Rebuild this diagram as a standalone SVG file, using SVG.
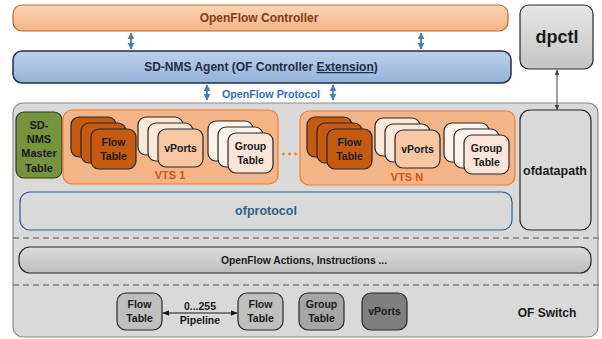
<svg xmlns="http://www.w3.org/2000/svg" width="602" height="339" viewBox="0 0 602 339">
<defs>
  <linearGradient id="gOrange" x1="0" y1="0" x2="0" y2="1"><stop offset="0" stop-color="#fbd5b8"/><stop offset="1" stop-color="#f4b486"/></linearGradient>
  <linearGradient id="gBlue" x1="0" y1="0" x2="0" y2="1"><stop offset="0" stop-color="#bcd0e8"/><stop offset="1" stop-color="#94b3d8"/></linearGradient>
  <linearGradient id="gGray" x1="0" y1="0" x2="0" y2="1"><stop offset="0" stop-color="#e6e6e6"/><stop offset="1" stop-color="#c4c4c4"/></linearGradient>
  <linearGradient id="gBar" x1="0" y1="0" x2="0" y2="1"><stop offset="0" stop-color="#dcdcdc"/><stop offset="1" stop-color="#bdbdbd"/></linearGradient>
  <marker id="aBlue" viewBox="0 0 10 10" refX="9" refY="5" markerWidth="4" markerHeight="4" orient="auto-start-reverse"><path d="M0,0 L10,5 L0,10 z" fill="#4a7ebb"/></marker>
  <marker id="aDark" viewBox="0 0 10 10" refX="9" refY="5" markerWidth="6" markerHeight="6" orient="auto-start-reverse"><path d="M0,1 L10,5 L0,9 z" fill="#404040"/></marker>
  <marker id="aBlack" viewBox="0 0 10 10" refX="9" refY="5" markerWidth="7" markerHeight="7" orient="auto-start-reverse"><path d="M0,1 L10,5 L0,9 z" fill="#1a1a1a"/></marker>
</defs>
<style>
  text { font-family: "Liberation Sans", Arial, sans-serif; font-weight: bold; text-anchor: middle; }
  .card { stroke: #262626; stroke-width: 1.2; }
  .flow { fill: #c55a11; }
  .vp { fill: #f7c6a2; }
  .vpb { fill: #fde9da; }
  .gt { fill: #fbe5d6; }
  .gtb { fill: #fff3ea; }
  .ct { font-size: 10.5px; fill: #1a1a1a; }
  .bt { font-size: 10.5px; fill: #1a1a1a; }
  .vts { fill: #f4b487; stroke: #ed7d31; stroke-width: 1.2; }
  .vtsl { font-size: 11px; fill: #c55a11; }
  .dash { stroke: #7f7f7f; stroke-width: 1.5; stroke-dasharray: 6 4; fill: none; }
  .blue { stroke: #4a7ebb; stroke-width: 1.8; fill: none; }
  .dot { fill: #ed7d31; }
</style>

<g id="controller">
  <rect x="13" y="5" width="495" height="26" rx="9" fill="url(#gOrange)" stroke="#b8682e" stroke-width="1.2"/>
  <text x="259" y="22" font-size="12" fill="#843c0c">OpenFlow Controller</text>
</g>

<g id="agent">
  <rect x="13" y="51" width="498" height="32" rx="9" fill="url(#gBlue)" stroke="#1f2f4f" stroke-width="1.5"/>
  <text x="261" y="71" font-size="12" fill="#1f2d45">SD-NMS Agent (OF Controller <tspan style="text-decoration:underline">Extension</tspan>)</text>
</g>

<g id="dpctl">
  <rect x="520" y="5" width="73" height="64" rx="9" fill="url(#gGray)" stroke="#262626" stroke-width="1.2"/>
  <text x="557" y="43" font-size="18" fill="#1a1a1a">dpctl</text>
</g>

<g id="of-switch">
  <rect x="13" y="103" width="585" height="234" rx="10" fill="#d9d9d9" stroke="#8c8c8c" stroke-width="1.2"/>
  <line class="dash" x1="13" y1="238" x2="600" y2="238"/>
  <line class="dash" x1="13" y1="285" x2="600" y2="285"/>
  <text x="547" y="317" font-size="12" fill="#1a1a1a">OF Switch</text>
</g>

<g id="master-table">
  <rect x="16" y="112" width="46" height="66" rx="8" fill="#77933c" stroke="#2f3a1a" stroke-width="1.2"/>
  <text x="39" y="129" font-size="11" fill="#1a1a1a">SD-</text>
  <text x="39" y="143" font-size="11" fill="#1a1a1a">NMS</text>
  <text x="39" y="157" font-size="11" fill="#1a1a1a">Master</text>
  <text x="39" y="172" font-size="11" fill="#1a1a1a">Table</text>
</g>

<g id="vts1">
  <rect class="vts" x="63" y="110" width="215" height="74" rx="9"/>
  <rect class="card flow" x="71" y="117" width="45" height="40" rx="8"/>
  <rect class="card flow" x="81" y="123" width="45" height="40" rx="8"/>
  <rect class="card flow" x="91" y="129" width="45" height="40" rx="8"/>
  <text class="ct" x="113.5" y="146">Flow</text>
  <text class="ct" x="113.5" y="160">Table</text>
  <rect class="card vpb" x="138" y="117" width="45" height="38" rx="8"/>
  <rect class="card vpb" x="148" y="123" width="45" height="38" rx="8"/>
  <rect class="card vp" x="158" y="129" width="45" height="38" rx="8"/>
  <text class="ct" x="180.5" y="152">vPorts</text>
  <rect class="card gtb" x="208" y="121" width="45" height="40" rx="8"/>
  <rect class="card gtb" x="218" y="127" width="45" height="40" rx="8"/>
  <rect class="card gt" x="228" y="133" width="45" height="40" rx="8"/>
  <text class="ct" x="250.5" y="150">Group</text>
  <text class="ct" x="250.5" y="164">Table</text>
  <text class="vtsl" x="170" y="179">VTS 1</text>
</g>

<g id="vts-dots">
  <circle class="dot" cx="283.5" cy="154" r="1.4"/>
  <circle class="dot" cx="289.5" cy="154" r="1.4"/>
  <circle class="dot" cx="295.5" cy="154" r="1.4"/>
</g>

<g id="vtsN">
  <rect class="vts" x="300" y="111" width="215" height="74" rx="9"/>
  <rect class="card flow" x="307" y="117" width="45" height="40" rx="8"/>
  <rect class="card flow" x="317" y="123" width="45" height="40" rx="8"/>
  <rect class="card flow" x="327" y="129" width="45" height="40" rx="8"/>
  <text class="ct" x="349.5" y="146">Flow</text>
  <text class="ct" x="349.5" y="160">Table</text>
  <rect class="card vpb" x="375" y="118" width="45" height="38" rx="8"/>
  <rect class="card vpb" x="385" y="124" width="45" height="38" rx="8"/>
  <rect class="card vp" x="395" y="130" width="45" height="38" rx="8"/>
  <text class="ct" x="417.5" y="153">vPorts</text>
  <rect class="card gtb" x="444" y="123" width="45" height="39" rx="8"/>
  <rect class="card gtb" x="454" y="129" width="45" height="39" rx="8"/>
  <rect class="card gt" x="464" y="135" width="45" height="39" rx="8"/>
  <text class="ct" x="486.5" y="152">Group</text>
  <text class="ct" x="486.5" y="166">Table</text>
  <text class="vtsl" x="407" y="181">VTS N</text>
</g>

<g id="ofprotocol">
  <rect x="20" y="192" width="492" height="38" rx="10" fill="#d9d9d9" stroke="#2e5d8e" stroke-width="1.2"/>
  <text x="266" y="215" font-size="12.5" fill="#2e5f8a">ofprotocol</text>
</g>

<g id="ofdatapath">
  <rect x="520" y="110" width="71" height="120" rx="10" fill="#d9d9d9" stroke="#262626" stroke-width="1.2"/>
  <text x="555" y="175" font-size="12.5" fill="#1a1a1a">ofdatapath</text>
</g>

<g id="actions">
  <rect x="19" y="247" width="572" height="26" rx="11" fill="url(#gBar)" stroke="#262626" stroke-width="1.2"/>
  <text x="304" y="264" font-size="10.3" fill="#1a1a1a">OpenFlow Actions, Instructions ...</text>
</g>

<g id="flow-table-a">
  <rect x="117" y="293" width="45" height="37" rx="9" fill="#bfbfbf" stroke="#262626" stroke-width="1.2"/>
  <text class="bt" x="139.5" y="308">Flow</text>
  <text class="bt" x="139.5" y="322">Table</text>
</g>
<g id="flow-table-b">
  <rect x="238" y="293" width="45" height="37" rx="9" fill="#bfbfbf" stroke="#262626" stroke-width="1.2"/>
  <text class="bt" x="260.5" y="308">Flow</text>
  <text class="bt" x="260.5" y="322">Table</text>
</g>
<g id="group-table">
  <rect x="299" y="293" width="45" height="37" rx="9" fill="#a6a6a6" stroke="#262626" stroke-width="1.2"/>
  <text class="bt" x="321.5" y="308">Group</text>
  <text class="bt" x="321.5" y="322">Table</text>
</g>
<g id="vports">
  <rect x="362" y="293" width="45" height="37" rx="9" fill="#7f7f7f" stroke="#262626" stroke-width="1.2"/>
  <text class="bt" x="384.5" y="315">vPorts</text>
</g>

<g id="connectors">
  <line class="blue" x1="131" y1="33" x2="131" y2="49" marker-start="url(#aBlue)" marker-end="url(#aBlue)"/>
  <line class="blue" x1="421" y1="33" x2="421" y2="49" marker-start="url(#aBlue)" marker-end="url(#aBlue)"/>
  <line class="blue" x1="207" y1="85" x2="207" y2="100" marker-start="url(#aBlue)" marker-end="url(#aBlue)"/>
  <line class="blue" x1="333" y1="85" x2="333" y2="100" marker-start="url(#aBlue)" marker-end="url(#aBlue)"/>
  <text x="271" y="98" font-size="10.7" fill="#2e74b5">OpenFlow Protocol</text>
  <line x1="557" y1="70" x2="557" y2="110" stroke="#404040" stroke-width="1" marker-start="url(#aDark)" marker-end="url(#aDark)"/>
  <line x1="163" y1="313" x2="237" y2="313" stroke="#1a1a1a" stroke-width="1" marker-start="url(#aBlack)" marker-end="url(#aBlack)"/>
  <text x="200" y="310" font-size="10.5" fill="#1a1a1a">0...255</text>
  <text x="200" y="324" font-size="10.5" fill="#1a1a1a">Pipeline</text>
</g>
</svg>
